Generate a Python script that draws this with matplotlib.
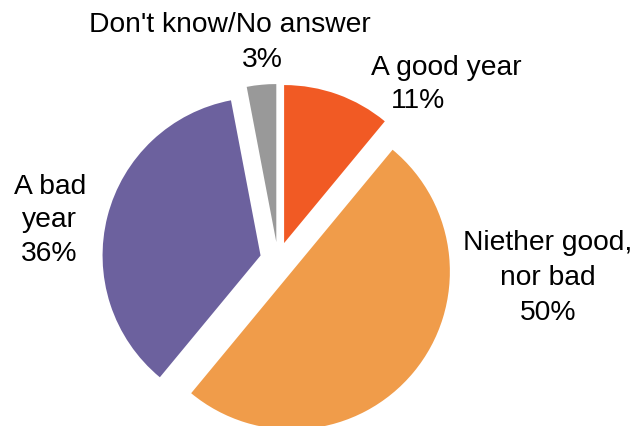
import matplotlib.pyplot as plt

# data
labels = ["A good year", "Niether good, nor bad", "A bad year", "Don't know/No answer"]
values = [11, 50, 36, 3]
colors = ["#F15A24", "#F09C4A", "#6C619E", "#999999"]

plt.rcParams['font.family'] = ['Liberation Sans', 'DejaVu Sans']

fig = plt.figure(figsize=(6.4, 4.26), dpi=100)
ax = fig.add_axes([0, 0, 1, 1])

# pie drawn in pixel units (y up), clockwise from 12 o'clock
# explode is an absolute offset here (same units as radius)
ax.pie(values, colors=colors, startangle=90, counterclock=False,
       radius=158, center=(278, 426 - 260), explode=[18] * 4,
       wedgeprops=dict(linewidth=0))

ax.set_xlim(0, 640)
ax.set_ylim(0, 426)
ax.set_aspect('equal')
ax.axis('off')

# label lines: (text, x, y from top)
label_lines = [
    ("Don't know/No answer", 230, 25), ("3%", 262, 60),
    ("A good year", 446, 68), ("11%", 418, 101),
    ("A bad", 50, 187), ("year", 49, 220), ("36%", 49, 254),
    ("Niether good,", 548, 243), ("nor bad", 548, 278), ("50%", 548, 313),
]
for txt, x, y in label_lines:
    ax.text(x, 426 - y, txt, ha='center', va='center', fontsize=20.3, color='black')

plt.savefig('out.png', dpi=100)
